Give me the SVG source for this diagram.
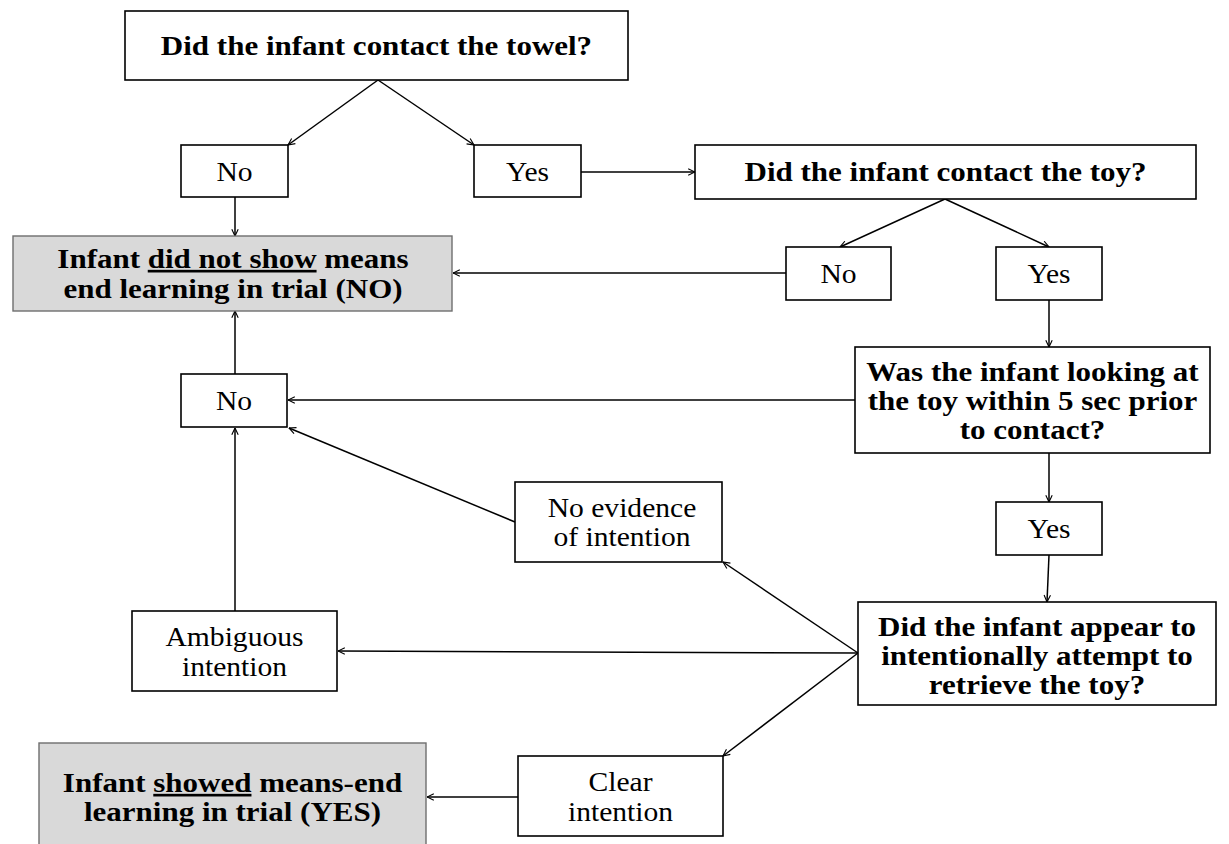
<svg xmlns="http://www.w3.org/2000/svg" width="1229" height="844" viewBox="0 0 1229 844">
<style>
.box{fill:#fff;stroke:#000;stroke-width:1.6}
.grey{fill:#d9d9d9;stroke:#6e6e6e;stroke-width:1.4}
.b{font-family:"Liberation Serif","Times New Roman",serif;font-weight:bold;font-size:26.5px;text-anchor:middle;fill:#000}
.r{font-family:"Liberation Serif","Times New Roman",serif;font-size:26.5px;text-anchor:middle;fill:#000}
.c{stroke:#000;stroke-width:1.5;fill:none;marker-end:url(#ah)}
.u{text-decoration:underline}
</style>
<defs>
<marker id="ah" viewBox="0 0 10 10" refX="9.5" refY="5" markerWidth="8" markerHeight="8" markerUnits="userSpaceOnUse" orient="auto">
<path d="M1,1 L9.5,5 L1,9" fill="none" stroke="#000" stroke-width="1.4"/>
</marker>
</defs>
<g id="connectors">
<line class="c" x1="378" y1="80" x2="288" y2="145"/>
<line class="c" x1="378" y1="80" x2="474" y2="145"/>
<line class="c" x1="581" y1="172" x2="695" y2="172"/>
<line class="c" x1="235" y1="197" x2="235" y2="236"/>
<line class="c" x1="945" y1="199" x2="840" y2="247"/>
<line class="c" x1="945" y1="199" x2="1049" y2="247"/>
<line class="c" x1="786" y1="273" x2="453" y2="273"/>
<line class="c" x1="1049" y1="300" x2="1049" y2="347"/>
<line class="c" x1="235" y1="374" x2="235" y2="311"/>
<line class="c" x1="855" y1="400" x2="288" y2="400"/>
<line class="c" x1="1049" y1="453" x2="1049" y2="502"/>
<line class="c" x1="1049" y1="555" x2="1047" y2="602"/>
<line class="c" x1="515" y1="522" x2="289" y2="428"/>
<line class="c" x1="858" y1="653" x2="723" y2="562"/>
<line class="c" x1="858" y1="653" x2="338" y2="651"/>
<line class="c" x1="858" y1="653" x2="723" y2="756"/>
<line class="c" x1="235" y1="611" x2="235" y2="428"/>
<line class="c" x1="518" y1="797" x2="427" y2="797"/>
</g>
<g id="q-towel">
<rect class="box" x="125" y="11" width="503" height="69"/>
<text class="b" transform="matrix(1.17 0 0 1 376.5 55)">Did the infant contact the towel?</text>
</g>
<g id="towel-no">
<rect class="box" x="181" y="145" width="107" height="52"/>
<text class="r" transform="matrix(1.117 0 0 1 234.5 181)">No</text>
</g>
<g id="towel-yes">
<rect class="box" x="474" y="145" width="107" height="52"/>
<text class="r" transform="matrix(1.117 0 0 1 527.5 181)">Yes</text>
</g>
<g id="q-toy">
<rect class="box" x="695" y="145" width="501" height="54"/>
<text class="b" transform="matrix(1.17 0 0 1 945.5 181)">Did the infant contact the toy?</text>
</g>
<g id="toy-no">
<rect class="box" x="786" y="247" width="105" height="53"/>
<text class="r" transform="matrix(1.117 0 0 1 838.5 283)">No</text>
</g>
<g id="toy-yes">
<rect class="box" x="996" y="247" width="106" height="53"/>
<text class="r" transform="matrix(1.117 0 0 1 1049 283)">Yes</text>
</g>
<g id="result-no">
<rect class="grey" x="13" y="236" width="439" height="75"/>
<text class="b" transform="matrix(1.17 0 0 1 233 268)">Infant <tspan class="u">did not show</tspan> means</text>
<text class="b" transform="matrix(1.17 0 0 1 233 298)">end learning in trial (NO)</text>
</g>
<g id="look-no">
<rect class="box" x="181" y="374" width="106" height="53"/>
<text class="r" transform="matrix(1.117 0 0 1 234 410)">No</text>
</g>
<g id="q-looking">
<rect class="box" x="855" y="347" width="355" height="106"/>
<text class="b" transform="matrix(1.17 0 0 1 1032.5 381)">Was the infant looking at</text>
<text class="b" transform="matrix(1.17 0 0 1 1032.5 410)">the toy within 5 sec prior</text>
<text class="b" transform="matrix(1.17 0 0 1 1032.5 439)">to contact?</text>
</g>
<g id="look-yes">
<rect class="box" x="996" y="502" width="106" height="53"/>
<text class="r" transform="matrix(1.117 0 0 1 1049 538)">Yes</text>
</g>
<g id="no-evidence">
<rect class="box" x="515" y="482" width="207" height="80"/>
<text class="r" transform="matrix(1.117 0 0 1 622 517)">No evidence</text>
<text class="r" transform="matrix(1.117 0 0 1 622 546)">of intention</text>
</g>
<g id="q-intent">
<rect class="box" x="858" y="602" width="358" height="103"/>
<text class="b" transform="matrix(1.17 0 0 1 1037 636)">Did the infant appear to</text>
<text class="b" transform="matrix(1.17 0 0 1 1037 665)">intentionally attempt to</text>
<text class="b" transform="matrix(1.17 0 0 1 1037 694)">retrieve the toy?</text>
</g>
<g id="ambiguous">
<rect class="box" x="132" y="611" width="205" height="80"/>
<text class="r" transform="matrix(1.117 0 0 1 234.5 646)">Ambiguous</text>
<text class="r" transform="matrix(1.117 0 0 1 234.5 676)">intention</text>
</g>
<g id="clear">
<rect class="box" x="518" y="756" width="205" height="80"/>
<text class="r" transform="matrix(1.117 0 0 1 620.5 791)">Clear</text>
<text class="r" transform="matrix(1.117 0 0 1 620.5 821)">intention</text>
</g>
<g id="result-yes">
<rect class="grey" x="39" y="743" width="387" height="110"/>
<text class="b" transform="matrix(1.17 0 0 1 232.5 792)">Infant <tspan class="u">showed</tspan> means-end</text>
<text class="b" transform="matrix(1.17 0 0 1 232.5 821)">learning in trial (YES)</text>
</g>
</svg>
